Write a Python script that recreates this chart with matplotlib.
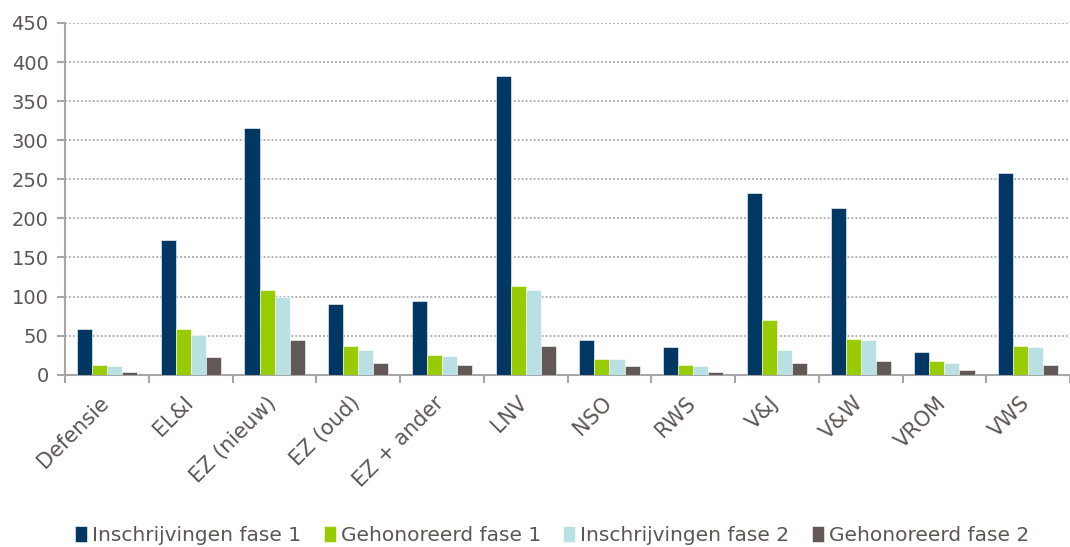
import matplotlib.pyplot as plt
import matplotlib.transforms as mtransforms
import numpy as np

# data
categories = ['Defensie', 'EL&I', 'EZ (nieuw)', 'EZ (oud)', 'EZ + ander', 'LNV',
              'NSO', 'RWS', 'V&J', 'V&W', 'VROM', 'VWS']
inschrijvingen_f1 = [58, 172, 315, 91, 94, 382, 44, 35, 232, 213, 29, 258]
gehonoreerd_f1 = [13, 58, 108, 37, 25, 113, 20, 13, 70, 46, 18, 37]
inschrijvingen_f2 = [11, 51, 99, 32, 24, 108, 20, 11, 32, 44, 15, 35]
gehonoreerd_f2 = [4, 22, 44, 15, 13, 37, 11, 3, 15, 18, 6, 13]

series = [
    ('Inschrijvingen fase 1', inschrijvingen_f1, '#003763'),
    ('Gehonoreerd fase 1', gehonoreerd_f1, '#99cc00'),
    ('Inschrijvingen fase 2', inschrijvingen_f2, '#b9e0e3'),
    ('Gehonoreerd fase 2', gehonoreerd_f2, '#625856'),
]

text_col = '#5d5552'
axis_col = '#a6a6a6'
plt.rcParams['font.family'] = ['DejaVu Sans']

fig = plt.figure(figsize=(10.7, 5.47), dpi=100)
ax = fig.add_axes([0.061, 0.315, 0.939, 0.643])

x = np.arange(len(categories))
w = 0.18
for i, (name, vals, col) in enumerate(series):
    ax.bar(x + (i - 1.5) * w, vals, w, color=col, label=name,
           edgecolor='white', linewidth=0.4, zorder=3)

ax.set_xlim(-0.5, len(categories) - 0.5)
ax.set_ylim(0, 450)
ax.set_yticks(np.arange(0, 451, 50))
ax.yaxis.grid(True, linestyle=(0, (1, 1.2)), color='#a8a8a8', linewidth=1.3, zorder=0)

ax.set_xticks(x)
ax.set_xticklabels(categories, rotation=45, ha='right', rotation_mode='anchor',
                   fontsize=15, color=text_col)
ax.tick_params(axis='x', length=0, pad=13)
# nudge the rotated labels a little to the left
shift = mtransforms.ScaledTranslation(-6 / 72, 0, fig.dpi_scale_trans)
for lbl in ax.get_xticklabels():
    lbl.set_transform(lbl.get_transform() + shift)
ax.set_xticks(np.arange(-0.5, len(categories)), minor=True)
ax.tick_params(axis='x', which='minor', length=6, width=1.5, color=axis_col)
ax.tick_params(axis='y', labelsize=14, labelcolor=text_col, length=6, width=1.5,
               color=axis_col, pad=6)

for s in ['top', 'right']:
    ax.spines[s].set_visible(False)
for s in ['left', 'bottom']:
    ax.spines[s].set_color(axis_col)
    ax.spines[s].set_linewidth(1.5)

fig.legend(loc='lower center', ncol=4, frameon=False, fontsize=14.5,
           bbox_to_anchor=(0.516, -0.03), handlelength=0.6, handleheight=0.85,
           handletextpad=0.25, columnspacing=1.1, labelcolor=text_col)

fig.savefig('out.png', dpi=100)
